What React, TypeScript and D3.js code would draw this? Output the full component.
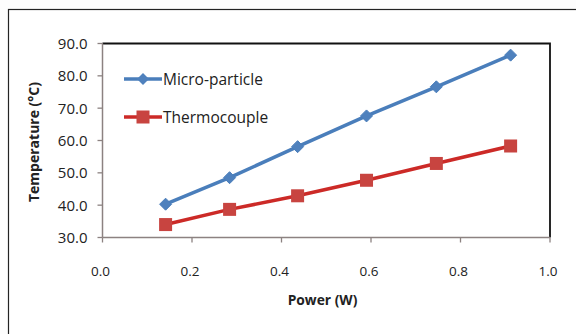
import React from "react";
import * as d3 from "d3";

const power = [0.141, 0.284, 0.436, 0.59, 0.746, 0.912];
const microParticle = [40.3, 48.5, 58.1, 67.6, 76.6, 86.4];
const thermocouple = [34.0, 38.7, 42.9, 47.7, 52.9, 58.3];
const xTicks = [0, 0.2, 0.4, 0.6, 0.8, 1.0];
const yTicks = [30, 40, 50, 60, 70, 80, 90];
const seriesNames = ["Micro-particle", "Thermocouple"];

const W = 576;
const H = 334;
const left = 102.5;
const right = 550;
const top = 43.5;
const bottom = 237.5;

const FONT = "'Open Sans', 'Noto Sans', sans-serif";
const BLUE_LINE = "#4a7ebb";
const BLUE_MARK = "#4f81bd";
const RED_LINE = "#cc2a27";
const RED_MARK = "#c84440";
const AXIS = "#8c8281";

export default function App() {
  const x = d3.scaleLinear().domain([0, 1]).range([left, right]);
  const y = d3.scaleLinear().domain([30, 90]).range([bottom, top]);
  const line = d3
    .line<[number, number]>()
    .x((d) => x(d[0]))
    .y((d) => y(d[1]));
  const blue: [number, number][] = power.map((p, i) => [p, microParticle[i]]);
  const red: [number, number][] = power.map((p, i) => [p, thermocouple[i]]);
  const diamond = (cx: number, cy: number, r: number) =>
    `M${cx},${cy - r}L${cx + r},${cy}L${cx},${cy + r}L${cx - r},${cy}Z`;

  return (
    <svg
      width={W}
      height={H}
      style={{ position: "absolute", left: 0, top: 0, background: "#fff" }}
    >
      <rect x={0} y={0} width={W} height={H} fill="#fdfdfd" />
      <rect x={8.5} y={9.5} width={700} height={500} fill="#fff" stroke="#222" strokeWidth={1.2} />

      {/* plot frame top/right */}
      <path
        d={`M${left},${top}H${right}V${bottom}`}
        fill="none"
        stroke="#111"
        strokeWidth={1.8}
      />
      {/* axes */}
      <line x1={left} x2={left} y1={top} y2={bottom} stroke={AXIS} strokeWidth={1.5} />
      <line x1={left} x2={right} y1={bottom} y2={bottom} stroke={AXIS} strokeWidth={1.5} />

      {yTicks.map((t) => (
        <g key={"y" + t}>
          <line x1={left - 5} x2={left} y1={y(t)} y2={y(t)} stroke={AXIS} strokeWidth={1.3} />
          <text
            x={87.5}
            y={y(t)}
            dy="0.36em"
            textAnchor="end"
            fontFamily={FONT}
            fontSize={15}
            fill="#222"
          >
            {t.toFixed(1)}
          </text>
        </g>
      ))}
      {xTicks.map((t) => (
        <g key={"x" + t}>
          <line x1={x(t)} x2={x(t)} y1={bottom} y2={bottom + 5} stroke={AXIS} strokeWidth={1.3} />
          <text
            x={x(t) - 2}
            y={271}
            dy="0.36em"
            textAnchor="middle"
            fontFamily={FONT}
            fontSize={13.5}
            fill="#222"
          >
            {t.toFixed(1)}
          </text>
        </g>
      ))}

      <text
        x={322.5}
        y={300}
        dy="0.36em"
        textAnchor="middle"
        fontFamily={FONT}
        fontSize={13.8}
        fontWeight="bold"
        fill="#222"
      >
        Power (W)
      </text>
      <text
        transform={`translate(33.5,142) rotate(-90)`}
        dy="0.36em"
        textAnchor="middle"
        fontFamily={FONT}
        fontSize={14}
        fontWeight="bold"
        fill="#222"
      >
        Temperature (°C)
      </text>

      {/* series */}
      <path d={line(blue) || ""} fill="none" stroke={BLUE_LINE} strokeWidth={3.5} strokeLinejoin="round" />
      {blue.map((d, i) => (
        <path key={"b" + i} d={diamond(x(d[0]), y(d[1]), 6)} fill={BLUE_MARK} stroke={BLUE_LINE} strokeWidth={1} />
      ))}
      <path d={line(red) || ""} fill="none" stroke={RED_LINE} strokeWidth={3.5} strokeLinejoin="round" />
      {red.map((d, i) => (
        <rect key={"r" + i} x={x(d[0]) - 6.5} y={y(d[1]) - 6.5} width={13} height={13} fill={RED_MARK} />
      ))}

      {/* legend */}
      <line x1={124} x2={162} y1={79} y2={79} stroke={BLUE_LINE} strokeWidth={3.5} />
      <path d={diamond(143, 79, 6)} fill={BLUE_MARK} />
      <text x={163} y={79} dy="0.36em" fontFamily={FONT} fontSize={15.5} fill="#222">
        {seriesNames[0]}
      </text>
      <line x1={124} x2={162} y1={117} y2={117} stroke={RED_LINE} strokeWidth={3.5} />
      <rect x={136.5} y={110.5} width={13} height={13} fill={RED_MARK} />
      <text x={163} y={117} dy="0.36em" fontFamily={FONT} fontSize={15.5} fill="#222">
        {seriesNames[1]}
      </text>
    </svg>
  );
}
